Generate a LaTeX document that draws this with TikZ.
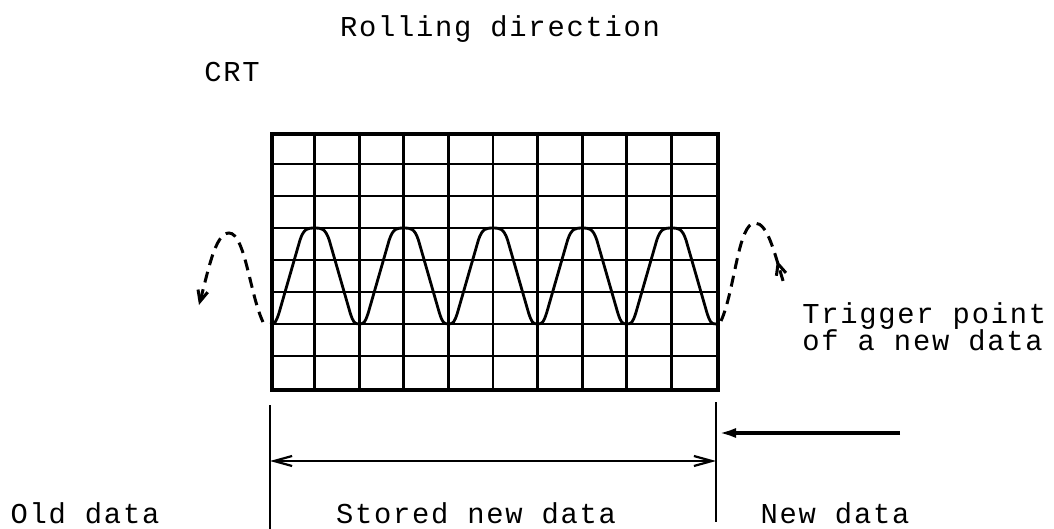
\documentclass[tikz,border=0pt]{standalone}
\usepackage{fontspec}
\setmonofont[LetterSpace=6]{Liberation Mono}
\usetikzlibrary{arrows.meta,decorations.markings}

\begin{document}
\begin{tikzpicture}[x=0.5pt,y=-0.5pt,>=Latex,
  lbl/.style={font=\ttfamily\fontsize{14.4}{13.5}\selectfont,inner sep=0pt},
  gridline/.style={line width=1.4pt},
  ghost/.style={line width=1.5pt,dash pattern=on 5.5pt off 3.5pt},
  barb/.tip={Straight Barb[length=5.5pt,width=5pt]}]
  \useasboundingbox (0,0) rectangle (1054,529);

  % screen and its graticule
  \node[draw,line width=2pt,minimum width=223pt,minimum height=128pt,
    inner sep=0pt,anchor=north west] (crt) at (270,132) {};
  \foreach \i in {1,...,9}
    \draw[gridline] (270+\i*44.6,132) -- (270+\i*44.6,388);
  \foreach \j in {1,...,7}
    \draw[gridline] (270,132+\j*32) -- (716,132+\j*32);

  % stored waveform, five pulses
  \draw[line width=1.4pt] (270,324)
    \foreach \k [evaluate=\k as \o using 270+\k*89.2] in {0,...,4} {
      .. controls (\o+5,324) and (\o+6,322) .. (\o+9,313) -- (\o+30,240)
      .. controls (\o+34,228) and (\o+38,228) .. (\o+44.6,228)
      .. controls (\o+51.2,228) and (\o+55.2,228) .. (\o+59.2,240) -- (\o+80.2,313)
      .. controls (\o+83.2,322) and (\o+84.2,324) .. (\o+89.2,324)
    };

  % old data leaving, new data coming in
  \draw[ghost,-barb] (263,322) .. controls (250,295) and (245,233) .. (229,233)
    .. controls (215,233) and (208,272) .. (199,305);
  \draw[ghost,postaction={decorate},decoration={markings,
    mark=at position 0.86 with {\arrowreversed{barb}}}]
    (721,321) .. controls (735,290) and (738,223) .. (755,223)
    .. controls (768,223) and (775,255) .. (784,284);

  % dimension lines
  \coordinate (lt) at (270,405);
  \coordinate (lb) at (270,529);
  \coordinate (rt) at (716,402);
  \coordinate (rb) at (716,522);
  \coordinate (inr) at (900,433);
  \coordinate (inl) at (718,433);
  \draw[line width=1pt] (lt) -- (lb);
  \draw[line width=1pt] (rt) -- (rb);
  \draw[line width=1.1pt,{Straight Barb[length=9pt,width=5pt]}-{Straight Barb[length=9pt,width=5pt]}]
    (lt |- 0,461) -- (rt |- 0,461);
  \draw[line width=1.8pt,-{Latex[length=9pt,width=5pt]}] (inr) -- (inl);

  % labels
  \node[lbl,anchor=base] (roll) at (500,37) {Rolling direction};
  \node[lbl,anchor=base west] (crtname) at (204,82) {CRT};
  \node[lbl,anchor=base west] (trig) at (802,323) {Trigger point};
  \node[lbl,anchor=base west] (trigb) at (802,350) {of a new data};
  \node[lbl,anchor=base] (old) at (85,523) {Old data};
  \node[lbl,anchor=base] (stored) at (476,523) {Stored new data};
  \node[lbl,anchor=base] (newd) at (835,523) {New data};
\end{tikzpicture}
\end{document}
